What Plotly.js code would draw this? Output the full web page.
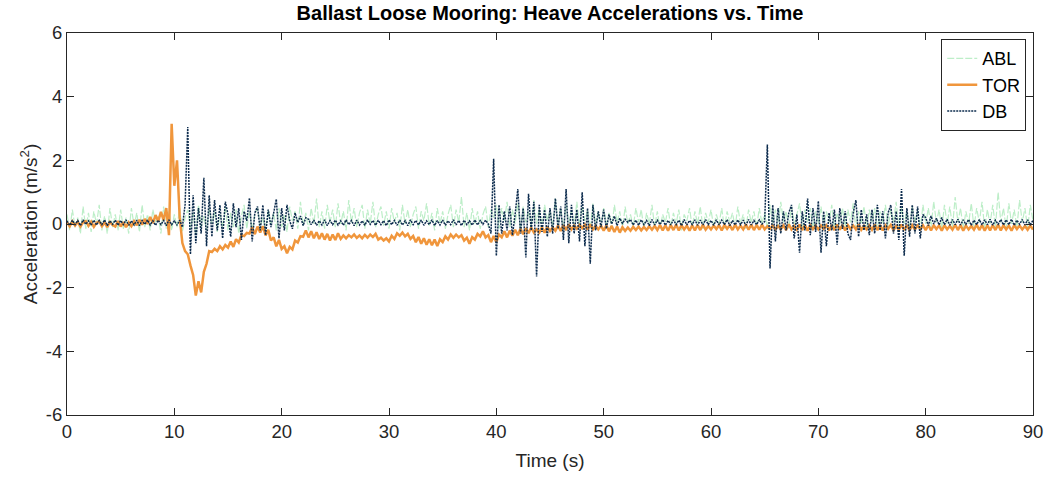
<!DOCTYPE html>
<html>
<head>
<meta charset="utf-8">
<script src="https://cdn.plot.ly/plotly-3.0.1.min.js"></script>
<style>html,body{margin:0;padding:0;background:#fff;}#chart{width:1059px;height:483px;}</style>
</head>
<body>
<div id="chart"></div>
<script>
// Sample spacing (s) of the time series
const dt = 0.25;

// ABL heave acceleration (m/s^2), samples every 0.25 s from 0 to 90 s
const ablValues = [
 0.3,-0.2,0.45,-0.1,0.2,-0.3,0.55,-0.15,0.35,-0.25,0.4,0.0,0.6,-0.2,0.25,-0.3,0.5,-0.1,0.3,-0.2,
 0.45,-0.15,0.2,-0.3,0.5,-0.05,0.35,-0.25,0.6,-0.1,0.3,-0.2,0.45,0.05,0.25,-0.3,0.55,-0.15,0.4,-0.2,
 0.3,-0.1,0.5,-0.25,0.2,0.45,-0.15,0.35,-0.3,0.6,-0.1,0.25,-0.2,0.5,0.0,0.4,-0.25,0.3,-0.1,0.55,
 -0.2,0.35,-0.1,0.45,-0.3,0.25,0.6,-0.15,0.4,-0.2,0.3,0.5,-0.1,0.2,-0.25,0.45,0.0,0.35,-0.2,0.5,
 -0.1,0.3,-0.25,0.55,0.1,0.4,-0.15,0.7,-0.05,0.35,-0.2,0.5,0.0,0.8,-0.1,0.4,-0.15,0.6,0.05,0.45,
 -0.1,0.65,0.0,0.4,-0.2,0.75,0.05,0.5,-0.1,0.35,0.6,-0.15,0.45,0.0,0.7,-0.1,0.3,0.55,-0.05,0.4,
 -0.15,0.5,0.05,0.35,-0.2,0.6,0.0,0.45,-0.1,0.3,0.55,-0.15,0.4,0.1,0.65,-0.05,0.35,-0.2,0.5,0.0,
 0.4,-0.15,0.3,0.6,-0.1,0.45,0.05,0.85,-0.1,0.35,-0.2,0.5,0.0,0.4,-0.15,0.3,0.55,-0.1,0.45,0.2,
 0.6,-0.15,0.5,0.1,0.7,-0.1,0.45,0.0,0.65,-0.2,0.55,0.05,0.4,-0.1,0.75,0.0,0.5,-0.15,0.6,0.1,
 0.45,-0.1,0.8,0.0,0.5,-0.2,0.6,0.05,0.4,-0.1,0.7,-0.05,0.55,0.1,0.45,-0.15,0.65,0.0,0.4,-0.1,
 0.5,0.0,0.35,-0.15,0.6,0.05,0.4,-0.2,0.55,0.0,0.3,-0.1,0.5,0.05,0.45,-0.15,0.35,0.0,0.6,-0.1,
 0.4,-0.15,0.3,0.05,0.5,-0.1,0.35,0.0,0.45,-0.2,0.3,0.1,0.5,-0.1,0.4,0.0,0.55,-0.15,0.35,0.05,
 0.45,-0.1,0.3,0.0,0.5,-0.15,0.4,0.05,0.35,-0.1,0.55,0.0,0.3,-0.15,0.45,0.05,0.4,-0.1,0.5,0.0,
 0.35,-0.15,0.6,0.0,0.45,-0.1,0.7,0.05,0.4,-0.15,0.55,0.0,0.3,0.65,-0.1,0.45,0.05,0.5,-0.15,0.4,
 0.0,0.55,-0.1,0.4,0.05,0.6,-0.15,0.35,0.0,0.5,-0.1,0.45,0.05,0.65,-0.15,0.4,0.0,0.55,-0.1,0.45,
 0.05,0.5,-0.15,0.4,0.0,0.6,-0.1,0.45,0.05,0.7,-0.15,0.5,0.0,0.4,-0.1,0.55,0.05,0.45,-0.15,0.6,
 0.0,0.5,-0.1,0.7,0.05,0.45,-0.15,0.6,0.0,0.55,-0.1,0.85,0.05,0.5,-0.15,0.4,0.0,0.65,-0.1,0.5,
 0.05,0.7,-0.15,0.45,0.0,0.6,-0.1,1.0,0.05,0.5,-0.15,0.65,0.0,0.45,-0.1,0.75,0.05,0.5,-0.15,0.6,0.1
];

// TOR heave acceleration (m/s^2)
const torValues = [
 0.06,-0.07,0.08,-0.05,0.07,-0.08,0.05,0.09,-0.06,0.07,-0.09,0.04,0.08,-0.07,0.05,-0.1,0.07,-0.03,-0.08,0.09,
 -0.08,0.06,-0.1,0.05,-0.07,0.09,-0.04,0.13,-0.02,0.16,0.0,0.22,0.03,0.28,0.08,0.38,0.12,0.5,-0.35,3.15,
 1.2,2.0,0.2,-0.6,-0.85,-0.95,-1.3,-1.6,-2.25,-1.8,-2.15,-1.5,-1.25,-0.85,-0.88,-0.78,-0.85,-0.7,-0.8,-0.66,
 -0.74,-0.55,-0.72,-0.48,-0.58,-0.35,-0.38,-0.28,-0.3,-0.1,-0.32,-0.08,-0.27,-0.07,-0.36,-0.18,-0.52,-0.42,-0.7,-0.5,
 -0.78,-0.7,-0.92,-0.72,-0.8,-0.52,-0.58,-0.38,-0.4,-0.2,-0.42,-0.23,-0.45,-0.26,-0.47,-0.29,-0.49,-0.31,-0.52,-0.33,
 -0.5,-0.29,-0.47,-0.36,-0.45,-0.35,-0.42,-0.33,-0.44,-0.36,-0.45,-0.34,-0.43,-0.33,-0.41,-0.31,-0.49,-0.43,-0.52,-0.45,
 -0.55,-0.37,-0.47,-0.29,-0.37,-0.27,-0.39,-0.31,-0.47,-0.38,-0.57,-0.41,-0.62,-0.45,-0.65,-0.48,-0.67,-0.49,-0.69,-0.48,
 -0.57,-0.39,-0.49,-0.33,-0.43,-0.33,-0.42,-0.35,-0.52,-0.43,-0.62,-0.41,-0.49,-0.31,-0.39,-0.23,-0.42,-0.35,-0.57,-0.38,
 -0.57,-0.33,-0.42,-0.23,-0.42,-0.21,-0.37,-0.18,-0.35,-0.15,-0.32,-0.13,-0.29,-0.11,-0.27,-0.17,-0.27,-0.1,-0.27,-0.09,
 -0.22,-0.11,-0.21,-0.05,-0.22,-0.03,-0.19,-0.01,-0.17,-0.05,-0.15,-0.03,-0.13,-0.02,-0.18,-0.01,-0.17,-0.06,-0.17,-0.05,
 -0.21,-0.05,-0.23,-0.06,-0.25,-0.08,-0.27,-0.1,-0.22,-0.11,-0.21,-0.09,-0.19,-0.08,-0.2,-0.09,-0.19,-0.07,-0.18,-0.06,
 -0.19,-0.03,-0.2,-0.04,-0.21,-0.03,-0.19,-0.02,-0.2,-0.04,-0.17,-0.05,-0.21,-0.04,-0.2,-0.03,-0.19,-0.02,-0.18,-0.06,
 -0.17,-0.05,-0.16,-0.04,-0.2,-0.03,-0.15,-0.04,-0.19,-0.02,-0.17,-0.05,-0.17,-0.01,-0.18,-0.02,-0.19,-0.03,-0.18,-0.02,
 -0.17,-0.07,-0.15,-0.05,-0.17,-0.06,-0.16,-0.04,-0.19,-0.01,-0.17,-0.06,-0.18,-0.02,-0.19,-0.03,-0.21,-0.04,-0.16,-0.05,
 -0.17,-0.05,-0.15,-0.04,-0.2,-0.03,-0.19,-0.02,-0.18,-0.03,-0.2,-0.04,-0.16,-0.05,-0.17,-0.01,-0.18,-0.06,-0.17,-0.05,
 -0.18,-0.02,-0.19,-0.03,-0.2,-0.04,-0.15,-0.03,-0.19,-0.07,-0.18,-0.02,-0.19,-0.03,-0.2,-0.04,-0.17,-0.05,-0.16,-0.04,
 -0.19,-0.03,-0.2,-0.04,-0.16,-0.05,-0.21,-0.04,-0.17,-0.06,-0.18,-0.02,-0.19,-0.03,-0.21,-0.05,-0.17,-0.06,-0.18,-0.02,
 -0.19,-0.03,-0.21,-0.04,-0.2,-0.03,-0.19,-0.02,-0.2,-0.04,-0.17,-0.05,-0.21,-0.04,-0.16,-0.05,-0.17,-0.06,-0.18,-0.05,-0.17
];

// DB heave acceleration (m/s^2)
const dbValues = [
 0.1,-0.04,0.12,-0.02,0.11,-0.05,0.13,-0.01,0.1,-0.04,0.12,-0.03,0.11,-0.02,0.13,-0.05,0.1,-0.01,0.12,-0.04,
 0.11,-0.02,0.13,-0.04,0.1,-0.03,0.12,-0.05,0.11,-0.01,0.13,-0.03,0.1,-0.04,0.12,-0.02,0.11,-0.05,0.13,-0.02,
 0.1,-0.04,0.12,-0.1,0.6,3.05,-0.95,0.9,-0.6,0.5,-0.3,1.45,-0.7,0.9,-0.4,0.75,-0.2,0.6,-0.45,0.7,
 0.3,-0.4,0.65,-0.1,0.5,-0.5,0.4,0.1,0.82,-0.55,0.35,0.55,-0.2,0.6,-0.35,0.45,-0.1,0.3,0.78,-0.45,
 0.5,-0.2,0.6,0.1,-0.15,0.35,0.05,0.25,-0.05,0.2,0.15,-0.02,0.12,-0.04,0.1,-0.03,0.13,-0.05,0.11,-0.02,
 0.12,-0.03,0.1,-0.04,0.13,-0.02,0.11,-0.05,0.12,-0.03,0.1,-0.04,0.13,-0.01,0.11,-0.04,0.12,-0.02,0.1,-0.05,
 0.13,-0.02,0.11,-0.04,0.12,-0.03,0.1,-0.05,0.13,-0.02,0.11,-0.03,0.12,-0.04,0.1,-0.02,0.13,-0.05,0.11,-0.03,
 0.12,-0.04,0.1,-0.02,0.13,-0.03,0.11,-0.05,0.12,-0.02,0.1,-0.04,0.13,-0.03,0.11,-0.01,0.12,0.0,-0.3,2.05,
 -1.0,0.6,-0.3,0.4,-0.2,0.55,-0.35,0.3,1.1,-0.3,0.5,-1.05,0.95,-0.2,0.7,-1.65,0.6,-0.25,0.45,-0.4,
 0.5,-0.3,0.8,-0.15,0.55,-0.5,1.1,-0.6,0.6,-0.3,0.45,-0.55,1.0,-0.7,0.5,-1.25,0.6,-0.2,0.4,-0.1,
 0.45,-0.15,0.3,0.0,0.25,-0.05,0.18,0.02,0.15,0.05,0.14,-0.03,0.12,-0.04,0.13,-0.02,0.11,-0.05,0.14,-0.03,
 0.12,-0.02,0.14,-0.04,0.11,-0.03,0.13,-0.02,0.12,-0.05,0.14,-0.03,0.11,-0.02,0.13,-0.04,0.12,-0.03,0.14,-0.02,
 0.11,-0.04,0.13,-0.03,0.12,-0.02,0.14,-0.05,0.11,-0.03,0.13,-0.02,0.12,-0.04,0.14,-0.03,0.11,-0.02,0.13,0.0,
 0.08,2.5,-1.4,0.6,-0.55,0.5,-0.3,0.4,-0.2,0.35,0.6,-0.45,0.3,-0.9,0.4,-0.2,0.8,-0.35,0.5,-0.25,
 0.72,-0.9,0.4,-0.7,0.35,-0.2,0.45,-0.65,0.5,-0.15,0.4,-0.3,-0.5,0.35,0.75,-0.4,0.45,-0.2,0.3,-0.35,
 0.45,-0.3,0.6,-0.2,0.4,-0.45,0.35,0.6,-0.3,0.4,-0.5,1.1,-1.0,0.5,-0.4,0.6,-0.3,0.55,-0.45,0.3,
 0.2,-0.05,0.25,0.0,0.18,-0.03,0.2,-0.02,0.15,-0.04,0.14,-0.02,0.15,-0.03,0.13,-0.01,0.14,-0.04,0.12,-0.02,
 0.14,-0.03,0.13,-0.02,0.15,-0.04,0.12,-0.01,0.14,-0.03,0.13,-0.02,0.15,-0.04,0.12,-0.01,0.14,-0.03,0.13,-0.02,0.12
];

const seriesNames = ['ABL', 'TOR', 'DB'];
const xTickVals = [0,10,20,30,40,50,60,70,80,90];
const xTickText = ['0','10','20','30','40','50','60','70','80','90'];
const yTickVals = [-6,-4,-2,0,2,4,6];
const yTickText = ['-6','-4','-2','0','2','4','6'];

const timeOf = arr => arr.map((_, i) => i * dt);

const fontFam = '"Liberation Sans", Arial, Helvetica, sans-serif';
const axisColor = '#262626';

const traces = [
  {x: timeOf(ablValues), y: ablValues, name: seriesNames[0], type: 'scatter', mode: 'lines',
   line: {color: '#bdeec8', width: 1.2, dash: '7px,2px'}},
  {x: timeOf(torValues), y: torValues, name: seriesNames[1], type: 'scatter', mode: 'lines',
   line: {color: '#f0963c', width: 2.5}},
  {x: timeOf(dbValues), y: dbValues, name: seriesNames[2], type: 'scatter', mode: 'lines',
   line: {color: '#0d2c4e', width: 1.5, dash: '2px,1px'}}
];

const axisCommon = {
  showline: true, linecolor: axisColor, linewidth: 1, mirror: 'allticks',
  ticks: 'inside', ticklen: 7, tickcolor: axisColor, tickwidth: 1,
  showgrid: false, zeroline: false, tickmode: 'array',
  tickfont: {family: fontFam, size: 18.5, color: axisColor}
};

const layout = {
  width: 1059, height: 483,
  margin: {l: 67, r: 26, t: 33, b: 68},
  paper_bgcolor: '#fff', plot_bgcolor: '#fff',
  font: {family: fontFam, color: '#000'},
  title: {text: '<b>Ballast Loose Mooring: Heave Accelerations vs. Time</b>',
          font: {family: fontFam, size: 20, color: '#000'},
          x: 0.5, xref: 'paper', y: 0.973, yref: 'container', yanchor: 'middle'},
  xaxis: Object.assign({}, axisCommon, {range: [0, 90], tickvals: xTickVals, ticktext: xTickText,
          title: {text: 'Time (s)', font: {family: fontFam, size: 19, color: axisColor}, standoff: 12}}),
  yaxis: Object.assign({}, axisCommon, {range: [-6, 6], tickvals: yTickVals, ticktext: yTickText,
          title: {text: 'Acceleration (m/s<sup>2</sup>)', font: {family: fontFam, size: 19, color: axisColor}, standoff: 3}}),
  legend: {x: 0.993, y: 0.984, xanchor: 'right', yanchor: 'top',
           bgcolor: '#fff', bordercolor: axisColor, borderwidth: 1,
           font: {family: fontFam, size: 18, color: '#000'}, tracegroupgap: 0},
  showlegend: true
};

Plotly.newPlot('chart', traces, layout, {displayModeBar: false, staticPlot: true});
</script>
</body>
</html>
